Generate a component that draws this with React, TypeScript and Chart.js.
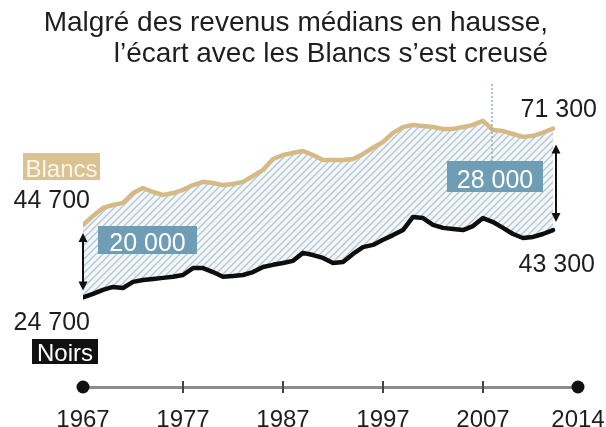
import React, { useEffect, useRef } from "react";
import { Chart, registerables } from "chart.js";

Chart.register(...registerables);

const YEARS = [
  1967, 1968, 1969, 1970, 1971, 1972, 1973, 1974, 1975, 1976,
  1977, 1978, 1979, 1980, 1981, 1982, 1983, 1984, 1985, 1986,
  1987, 1988, 1989, 1990, 1991, 1992, 1993, 1994, 1995, 1996,
  1997, 1998, 1999, 2000, 2001, 2002, 2003, 2004, 2005, 2006,
  2007, 2008, 2009, 2010, 2011, 2012, 2013, 2014,
];

const BLANCS = [
  44700, 47200, 49400, 50200, 50800, 53500, 54900, 53800, 53000, 53500,
  54400, 55700, 56600, 56300, 55700, 56000, 56600, 58200, 59900, 62900,
  64000, 64600, 65100, 64000, 62600, 62600, 62600, 62900, 64300, 66000,
  67600, 70100, 71700, 72300, 72000, 71700, 71200, 71200, 71700, 72300,
  73400, 70900, 70600, 69800, 69000, 69300, 70200, 71300,
];

const NOIRS = [
  24700, 25700, 26800, 27600, 27300, 29000, 29500, 29800, 30100, 30400,
  30900, 32800, 32800, 31700, 30400, 30600, 30900, 31700, 33100, 33700,
  34200, 34800, 37000, 36400, 35600, 34200, 34500, 36700, 38600, 39200,
  40600, 41900, 43300, 46900, 46600, 44700, 43900, 43600, 43300, 44400,
  46600, 45500, 43900, 42200, 41100, 41400, 42200, 43300,
];

const TICK_VALUES = [1967, 1977, 1987, 1997, 2007, 2016.5];
const TICK_LABELS = ["1967", "1977", "1987", "1997", "2007", "2014"];

const TITLE_LINES = [
  "Malgré des revenus médians en hausse,",
  "l’écart avec les Blancs s’est creusé",
];
const LABEL_BLANCS = "Blancs";
const LABEL_NOIRS = "Noirs";
const START_BLANCS = "44 700";
const START_NOIRS = "24 700";
const END_BLANCS = "71 300";
const END_NOIRS = "43 300";
const GAP_START = "20 000";
const GAP_END = "28 000";

const FONT = '"Liberation Sans", Arial, Helvetica, sans-serif';

function makePattern(): CanvasPattern | string {
  const c = document.createElement("canvas");
  const s = 7;
  c.width = s;
  c.height = s;
  const g = c.getContext("2d");
  if (!g) return "#e3eaee";
  g.fillStyle = "#f4f7f9";
  g.fillRect(0, 0, s, s);
  g.strokeStyle = "#b6c7d2";
  g.lineWidth = 1.4;
  g.beginPath();
  g.moveTo(-1, s + 1);
  g.lineTo(s + 1, -1);
  g.moveTo(-1, 1);
  g.lineTo(1, -1);
  g.moveTo(s - 1, s + 1);
  g.lineTo(s + 1, s - 1);
  g.stroke();
  const p = g.createPattern(c, "repeat");
  return p || "#e3eaee";
}

function arrow(ctx: CanvasRenderingContext2D, x: number, y1: number, y2: number) {
  const head = 9;
  const hw = 4.5;
  ctx.save();
  ctx.strokeStyle = "#111";
  ctx.fillStyle = "#111";
  ctx.lineWidth = 2;
  ctx.beginPath();
  ctx.moveTo(x, y1 + head - 1);
  ctx.lineTo(x, y2 - head + 1);
  ctx.stroke();
  ctx.beginPath();
  ctx.moveTo(x, y1);
  ctx.lineTo(x - hw, y1 + head);
  ctx.lineTo(x + hw, y1 + head);
  ctx.closePath();
  ctx.fill();
  ctx.beginPath();
  ctx.moveTo(x, y2);
  ctx.lineTo(x - hw, y2 - head);
  ctx.lineTo(x + hw, y2 - head);
  ctx.closePath();
  ctx.fill();
  ctx.restore();
}

function box(
  ctx: CanvasRenderingContext2D,
  text: string,
  x: number,
  y: number,
  w: number,
  h: number,
  bg: string,
  fg: string,
  baseline: number,
  size: number
) {
  ctx.save();
  ctx.fillStyle = bg;
  ctx.fillRect(x, y, w, h);
  ctx.fillStyle = fg;
  ctx.font = `${size}px ${FONT}`;
  ctx.textAlign = "center";
  ctx.textBaseline = "alphabetic";
  ctx.fillText(text, x + w / 2, baseline);
  ctx.restore();
}

const annotations = {
  id: "annotations",
  afterDraw(chart: any) {
    const ctx: CanvasRenderingContext2D = chart.ctx;
    const xs = chart.scales.x;
    const ys = chart.scales.y;
    const axisY = chart.chartArea.bottom;

    // title
    ctx.save();
    ctx.fillStyle = "#1e1e1e";
    ctx.font = `28px ${FONT}`;
    ctx.textAlign = "right";
    ctx.textBaseline = "alphabetic";
    ctx.fillText(TITLE_LINES[0], 548, 31);
    ctx.fillText(TITLE_LINES[1], 548, 62);
    ctx.restore();

    // timeline tick marks and end dots
    ctx.save();
    ctx.strokeStyle = "#444";
    ctx.lineWidth = 2;
    for (let i = 1; i < xs.ticks.length - 1; i++) {
      const px = xs.getPixelForTick(i);
      ctx.beginPath();
      ctx.moveTo(px, axisY - 6);
      ctx.lineTo(px, axisY + 6);
      ctx.stroke();
    }
    ctx.fillStyle = "#111";
    [0, xs.ticks.length - 1].forEach((i) => {
      const px = xs.getPixelForTick(i);
      ctx.beginPath();
      ctx.arc(px, axisY, 6.5, 0, Math.PI * 2);
      ctx.fill();
    });
    ctx.restore();

    // dotted guide
    ctx.save();
    ctx.strokeStyle = "#8fb0c4";
    ctx.lineWidth = 1.5;
    ctx.setLineDash([2, 2]);
    ctx.beginPath();
    ctx.moveTo(492, 84);
    ctx.lineTo(492, 161);
    ctx.stroke();
    ctx.restore();

    // arrows
    const last = YEARS.length - 1;
    const xStart = xs.getPixelForValue(YEARS[0]);
    const xEnd = xs.getPixelForValue(YEARS[last]) + 3;
    arrow(ctx, xStart, ys.getPixelForValue(BLANCS[0]) + 8, ys.getPixelForValue(NOIRS[0]) - 7);
    arrow(ctx, xEnd, ys.getPixelForValue(BLANCS[last]) + 16, ys.getPixelForValue(NOIRS[last]) - 8);

    // value labels
    ctx.save();
    ctx.fillStyle = "#1e1e1e";
    ctx.font = `25px ${FONT}`;
    ctx.textAlign = "right";
    ctx.textBaseline = "alphabetic";
    ctx.fillText(START_BLANCS, 90, 208);
    ctx.fillText(START_NOIRS, 90, 330);
    ctx.fillText(END_BLANCS, 597, 117);
    ctx.fillText(END_NOIRS, 595, 272);
    ctx.restore();

    // boxes
    box(ctx, LABEL_BLANCS, 23, 153, 77, 27, "#dac293", "#fdf6e8", 177, 24);
    box(ctx, LABEL_NOIRS, 32, 339, 66, 25, "#111111", "#ffffff", 361, 24);
    box(ctx, GAP_START, 98, 226, 99, 28, "#6f9db5", "#ffffff", 251, 25);
    box(ctx, GAP_END, 447, 161, 96, 31, "#6f9db5", "#ffffff", 188, 25);
  },
};

export default function App() {
  const ref = useRef<HTMLCanvasElement | null>(null);

  useEffect(() => {
    if (!ref.current) return;
    const pattern = makePattern();
    const chart = new Chart(ref.current, {
      type: "line",
      data: {
        datasets: [
          {
            label: LABEL_NOIRS,
            data: YEARS.map((y, i) => ({ x: y, y: NOIRS[i] })),
            borderColor: "#0e0e0e",
            borderWidth: 4.5,
            pointRadius: 0,
            tension: 0,
            fill: false,
            borderJoinStyle: "round",
            borderCapStyle: "round",
          },
          {
            label: LABEL_BLANCS,
            data: YEARS.map((y, i) => ({ x: y, y: BLANCS[i] })),
            borderColor: "#d6ba86",
            borderWidth: 4.5,
            pointRadius: 0,
            tension: 0,
            fill: "-1",
            backgroundColor: pattern as any,
            borderJoinStyle: "round",
            borderCapStyle: "round",
          },
        ],
      },
      options: {
        responsive: false,
        animation: false,
        devicePixelRatio: 1,
        events: [],
        layout: { padding: { left: 83, right: 28, top: 97, bottom: 0 } },
        plugins: {
          legend: { display: false },
          tooltip: { enabled: false },
          title: { display: false },
        },
        scales: {
          x: {
            type: "linear",
            min: 1967,
            max: 2016.5,
            afterBuildTicks: (s: any) => {
              s.ticks = TICK_VALUES.map((v) => ({ value: v }));
            },
            afterFit: (s: any) => {
              s.height = 40;
              s.paddingLeft = 0;
              s.paddingRight = 0;
            },
            grid: { display: false },
            border: { display: true, color: "#8c8c8c", width: 3 },
            ticks: {
              autoSkip: false,
              maxRotation: 0,
              padding: 11,
              color: "#1e1e1e",
              font: { family: FONT, size: 24 },
              callback: (_v: any, i: number) => TICK_LABELS[i],
            },
          },
          y: {
            display: false,
            min: 0,
            max: 80000,
          },
        },
      },
      plugins: [annotations],
    });
    return () => chart.destroy();
  }, []);

  return (
    <div style={{ position: "fixed", left: 0, top: 0, width: 606, height: 427, background: "#fff" }}>
      <canvas ref={ref} width={606} height={427} style={{ width: 606, height: 427 }} />
    </div>
  );
}
